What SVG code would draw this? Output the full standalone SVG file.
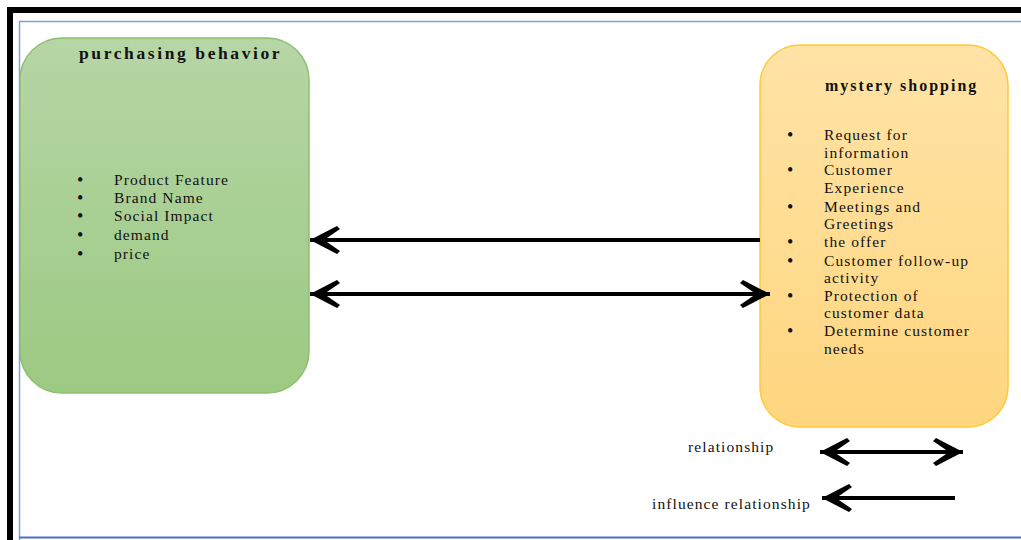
<svg xmlns="http://www.w3.org/2000/svg" width="1021" height="540" viewBox="0 0 1021 540">
<style>
.t{font-family:"Liberation Serif","Times New Roman",serif;fill:#111}
.title{font-weight:bold}
.item{font-size:15.5px;letter-spacing:1.1px}
.b{font-size:18px}
.leg{font-size:15.5px;letter-spacing:1.1px}
.conn{stroke:#000;stroke-width:4;fill:none}
</style>
<defs>
<linearGradient id="gG" x1="0" y1="0" x2="0" y2="1">
<stop offset="0" stop-color="#b6d6a6"/>
<stop offset="1" stop-color="#9cc982"/>
</linearGradient>
<linearGradient id="gO" x1="0" y1="0" x2="0" y2="1">
<stop offset="0" stop-color="#ffe3a6"/>
<stop offset="1" stop-color="#ffd67f"/>
</linearGradient>
<marker id="ah" viewBox="0 0 32 30" refX="30" refY="15" markerWidth="32" markerHeight="30" markerUnits="userSpaceOnUse" orient="auto-start-reverse">
<path d="M30,15 L3,1 L0,4 L16,15 L0,26 L3,29 Z" fill="#000"/>
</marker>
</defs>
<rect x="0" y="0" width="1021" height="540" fill="#fff"/>
<g id="frame">
<path d="M10,540 V10 H1021" fill="none" stroke="#000" stroke-width="6"/>
<path d="M19.5,540 V21.5 H1021" fill="none" stroke="#7da2e0" stroke-width="1.5"/>
<line x1="19" y1="537.5" x2="1021" y2="537.5" stroke="#4a72c4" stroke-width="2"/>
</g>
<g id="purchasing-behavior">
<rect x="20" y="38" width="289" height="355" rx="42" ry="42" fill="url(#gG)" stroke="#8ebf72" stroke-width="1.5"/>
<text class="t title" x="79" y="59" style="font-size:17.5px;letter-spacing:2.6px">purchasing behavior</text>
<g class="t item">
<text class="b" x="77" y="186">•</text><text x="114" y="185">Product Feature</text>
<text class="b" x="77" y="204">•</text><text x="114" y="203">Brand Name</text>
<text class="b" x="77" y="222">•</text><text x="114" y="221">Social Impact</text>
<text class="b" x="77" y="241">•</text><text x="114" y="240">demand</text>
<text class="b" x="77" y="260">•</text><text x="114" y="259">price</text>
</g>
</g>
<g id="mystery-shopping">
<rect x="760" y="45" width="248" height="382" rx="40" ry="40" fill="url(#gO)" stroke="#ffc93a" stroke-width="1.5"/>
<text class="t title" x="825" y="91" style="font-size:16px;letter-spacing:2px">mystery shopping</text>
<g class="t item">
<text class="b" x="787" y="141">•</text><text x="824" y="140">Request for</text>
<text x="824" y="158">information</text>
<text class="b" x="787" y="176">•</text><text x="824" y="175">Customer</text>
<text x="824" y="193">Experience</text>
<text class="b" x="787" y="213">•</text><text x="824" y="212">Meetings and</text>
<text x="824" y="229">Greetings</text>
<text class="b" x="787" y="248">•</text><text x="824" y="247">the offer</text>
<text class="b" x="787" y="267">•</text><text x="824" y="266">Customer follow-up</text>
<text x="824" y="283">activity</text>
<text class="b" x="787" y="302">•</text><text x="824" y="301">Protection of</text>
<text x="824" y="318">customer data</text>
<text class="b" x="787" y="337">•</text><text x="824" y="336">Determine customer</text>
<text x="824" y="354">needs</text>
</g>
</g>
<g id="connectors">
<line class="conn" x1="760" y1="240" x2="310" y2="240" marker-end="url(#ah)"/>
<line class="conn" x1="310" y1="294" x2="770" y2="294" marker-start="url(#ah)" marker-end="url(#ah)"/>
</g>
<g id="legend">
<text class="t leg" x="688" y="452">relationship</text>
<line class="conn" x1="820" y1="452" x2="963" y2="452" marker-start="url(#ah)" marker-end="url(#ah)"/>
<text class="t leg" x="652" y="509">influence relationship</text>
<line class="conn" x1="955" y1="498" x2="822" y2="498" marker-end="url(#ah)"/>
</g>
</svg>
